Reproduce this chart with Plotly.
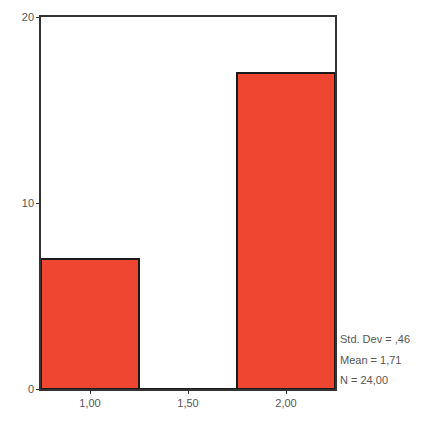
import plotly.graph_objects as go

bin_centers = [1.0, 1.5, 2.0]
counts = [7, 0, 17]
x_tick_labels = ["1,00", "1,50", "2,00"]
y_tick_vals = [0, 10, 20]
y_tick_labels = ["0", "10", "20"]
stats_lines = ["Std. Dev = ,46", "Mean = 1,71", "N = 24,00"]

fig = go.Figure()
fig.add_trace(go.Bar(
    x=bin_centers, y=counts, width=0.5,
    marker=dict(color="#EF4632", line=dict(color="#1a1a1a", width=2)),
    showlegend=False,
))

fig.update_layout(
    width=428, height=423,
    margin=dict(l=33, r=101, t=9, b=42, autoexpand=False),
    paper_bgcolor="white", plot_bgcolor="white",
    font=dict(family="Liberation Sans, Arial", size=11, color="#555"),
    bargap=0,
    xaxis=dict(range=[0.75, 2.25], tickvals=bin_centers, ticktext=x_tick_labels,
               showgrid=False, zeroline=False, showline=True, linecolor="#333",
               linewidth=1.5, mirror=True, ticks="outside", ticklen=3,
               tickcolor="#333", tickfont=dict(size=11)),
    yaxis=dict(range=[0, 20], tickvals=y_tick_vals, ticktext=y_tick_labels,
               showgrid=False, zeroline=False, showline=True, linecolor="#333",
               linewidth=1.5, mirror=True, ticks="outside", ticklen=3,
               tickcolor="#333", tickfont=dict(size=11)),
)

for i, t in enumerate(stats_lines):
    fig.add_annotation(text=t, xref="paper", yref="paper", x=1.01, y=0.135 - i * 0.056,
                       xanchor="left", yanchor="middle", showarrow=False,
                       font=dict(size=11, color="#555"))

fig.write_html("out.html")
